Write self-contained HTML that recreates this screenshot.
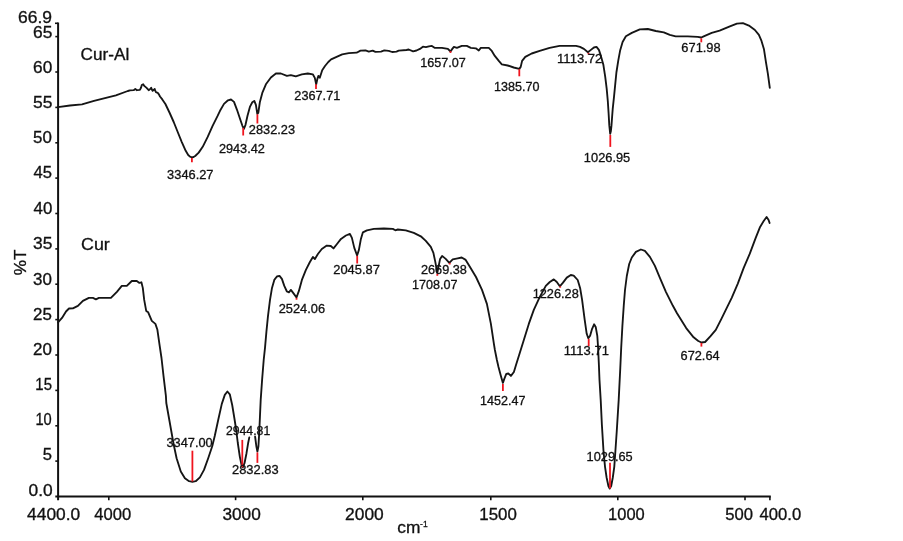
<!DOCTYPE html>
<html><head><meta charset="utf-8"><title>FTIR spectra</title>
<style>
html,body{margin:0;padding:0;background:#fff;overflow:hidden;}
svg{display:block;}
text{font-family:"Liberation Sans",Arial,sans-serif;fill:#111;stroke:#111;stroke-width:0.3px;}
.pk{font-size:12.3px;}
.ax{font-size:15.7px;}
</style></head>
<body>
<svg width="903" height="541" viewBox="0 0 903 541">
<rect width="903" height="541" fill="#fff"/>
<g stroke="#111" stroke-width="2" fill="none">
<path d="M58.1 22.5 V500.2"/>
<path d="M55.3 496.5 H770.8"/>
</g>
<g stroke="#111" stroke-width="1.6" fill="none">
<path d="M55 23.3 H58"/>
<path d="M55.3 36.6 H58"/>
<path d="M55.3 72.0 H58"/>
<path d="M55.3 107.4 H58"/>
<path d="M55.3 142.8 H58"/>
<path d="M55.3 178.1 H58"/>
<path d="M55.3 213.5 H58"/>
<path d="M55.3 248.9 H58"/>
<path d="M55.3 284.2 H58"/>
<path d="M55.3 319.6 H58"/>
<path d="M55.3 355.0 H58"/>
<path d="M55.3 390.4 H58"/>
<path d="M55.3 425.8 H58"/>
<path d="M55.3 461.1 H58"/>
<path d="M108.8 496.5 V500.2"/>
<path d="M235.6 496.5 V500.2"/>
<path d="M362.8 496.5 V500.2"/>
<path d="M490.8 496.5 V500.2"/>
<path d="M617.8 496.5 V500.2"/>
<path d="M745 496.5 V500.2"/>
<path d="M769.9 496.5 V500.2"/>
</g>
<g stroke="#151515" stroke-width="1.85" fill="none" stroke-linejoin="round" stroke-linecap="round">
<polyline points="58,107.1 70,105.5 82,104.3 94,100.9 105.9,97.9 115.9,95.3 127.8,91 130,90.3 133.7,90.2 135.3,88.9 136.9,90.2 139.9,89.9 141.1,87.5 141.8,85 143.2,84.2 144.3,85.9 146.6,87.9 148.7,90.2 150.3,88.9 151.2,87.7 151.7,89.3 152.6,90.9 153.8,89.8 154.7,88.9 155.2,90.7 155.9,92.1 157.7,92.8 158.9,94.4 160,96.5 162.3,99.4 165.4,104 169.7,113 173.7,122 177.7,132 181.7,141.8 185.7,150.8 188.2,155 190,156.7 191.9,157.3 193.6,157 195.2,156 198.7,152.6 202.7,146.8 207.7,136.9 212.6,125.9 217.6,115.9 220,110.8 224,103.9 228,100.3 231,99.5 234,101.9 237,109.8 240,118.8 242.4,125.8 243.9,128.8 245.5,124.8 247.5,115.8 249.9,106.9 252.3,102.3 254.3,100.9 255.9,104.9 257.3,113.8 258.3,112.8 259.9,101.9 262.3,92.9 265.9,84.3 270.9,77.5 275.9,73.5 280.9,73.5 286.9,75.9 290.8,75.1 295.8,76.3 301.8,74.3 307.8,73.5 312.8,74.3 314.8,77.9 316.2,84.3 317.4,78.9 318.4,75.9 319.8,77.7 322.2,70.2 325,66 328.3,62 331.1,59.4 336.6,56.8 342.2,54.4 348.8,53.2 356.6,52.7 360.5,50.6 365.5,50.4 368.8,51.6 372.7,50.6 375.4,51.8 381,51.6 384.3,50.4 388.7,50.8 392.1,52 396.5,51.6 398.7,50.6 406.5,50 408.7,49.5 413.1,51.3 416.5,50.5 419.9,48.9 422.9,46.7 425.9,47.1 428.9,46.3 431.9,45.9 434.9,47.9 441.9,47.9 447.9,48.9 450.5,51.5 452.3,48.9 453.9,46.9 456.9,47.9 461.8,45.9 466.8,45.9 470.8,47.9 475.8,48.3 478.8,50.5 480.8,47.9 488.8,47.9 491.8,50.9 494.8,55.9 498.8,60.9 501.8,64.3 507.7,65.5 513.7,67.5 519.3,68.9 520.7,66.9 522.1,60.9 525.3,56.9 531.7,53.5 539.7,50.9 549.6,47.9 559.6,45.9 576,45.9 580,46.9 583.9,48.9 587.9,52.3 590.9,49.9 593.9,47.5 596.5,46.9 598.9,49.9 600.9,55.9 603.3,64.4 605.2,76.6 606.7,88.8 607.8,101 608.6,113.2 609.3,125.4 610.2,133.8 610.9,131 611.5,125.4 612.1,117 612.7,109.1 614,96.9 615.2,84.7 616.4,72.5 618.3,60.3 620.2,50.2 622.6,42 625.9,36.3 631.8,32.9 639.8,29.4 647.8,29 655.8,31 663.8,32.4 669.8,34.9 675.7,36.3 687.7,36.3 697.7,36.9 701.3,37.5 703.7,36.3 711.7,32.9 719.6,30.6 729.9,26.4 736.9,23.6 742.9,23.2 748.9,25.6 754.9,30 758.9,34.9 761.5,40.9 763.9,48.9 765.9,61.9 767.9,73.9 769.8,87.8"/>
<polyline points="58,322.3 62,317.9 66,311.5 69,308.5 72.9,308.3 77.9,305.9 82.9,300.9 88.9,297.9 92.9,297.9 95.9,299.3 98.9,297.9 110.9,297.9 116.9,291.9 121.8,285.9 126.8,285.9 131.8,281 136.8,281 139.4,282.9 141.4,282.3 142.8,287.9 144.2,299.9 146.2,310.9 148.2,312.3 151.8,320.9 155.4,323.9 157.4,329.8 159.4,343.8 161.5,358 163.5,375.9 165.9,395.9 166.3,403 169.5,421 172.5,438 174,446 176.6,458.2 180.8,471.5 184.9,478.2 189.1,481.2 192.4,481.8 195.7,481.2 199.9,477.4 204,469.9 208.2,458.2 212.3,446 214.8,435.8 218.2,420 221.8,403.9 224.8,394.9 227.4,391.5 229.8,394.3 232.2,405 234.5,419 236.2,430 237.8,443 239.8,456.6 241.5,464.9 242.8,467.4 244.5,463.2 246.5,453.2 248.1,443.3 249.3,437.4"/>
<polyline points="255.1,436.6 256.4,446.6 257.4,451.6 258.4,446.6 259.1,434.9 259.8,420 260.7,399.9 262.1,379.9 263.7,360 265,347.8 266.4,331.8 268,315.8 270,299.9 272,287.9 274.3,279.9 276.9,276.5 279.5,275.9 281.9,278.9 284.3,285.9 286.9,291.5 288.9,292.3 290.9,289.9 293.9,293.9 296.5,297.5 298.9,290.9 301.9,279.9 305.9,269.9 309.9,262 312.9,257 314.9,259 317.9,254 321.8,249 326.8,245.6 330.8,246 333.5,248.4 337,244 341,238.9 345.9,235.5 349.9,233.9 351.9,237.9 354.3,247.9 357.1,255.5 358.9,249.9 360.9,238.9 362.9,232.3 366.9,230.3 373.9,228.9 383.9,228.5 392.8,228.9 395.4,230.3 397.8,229.5 405.8,230.3 413.8,232.9 420.8,236.3 425.8,240.9 430.8,246.9 433.4,252.9 435.3,261.9 437.3,272.8 438.7,265.9 440.1,258.9 442.1,255.9 445.7,258.9 449.3,262.9 452.7,259.3 457.7,258.3 461.7,257.5 465.7,259.9 470,267 476,277 482,289.9 486.9,303.9 490.9,323.9 493.9,343.8 494.9,350 496.9,360 498.5,367 500.9,375.9 502.9,382.9 504.3,378.9 506.3,373.9 508.3,373.5 510.9,375.9 513.9,372 516,365 518.9,355.8 523.9,339.8 528.8,323.9 533.8,309.9 539.8,296.9 545.8,285.9 549.8,282 553.8,279.4 556.8,282 559.8,286.3 562.8,282.9 566.8,277.6 570.8,275 573.7,275.6 577.7,280 580.1,287.9 582.1,299.9 584.7,319.9 586.7,333.8 588.3,338.2 590.1,335.8 592.1,328.8 594.1,324.3 595.7,326.9 597.3,335.8 598.1,347.8 598.9,365 599.5,380 600.7,399.9 601.9,425 603.5,451 605,466.6 606.6,477.5 608.4,486 609.7,488.6 611.2,486 612.8,477.5 614.3,466.6 615.4,451 616.7,432 618.7,399.9 620.3,367.8 621.2,347.8 622.4,325.9 623.8,305 625,290 626.8,276 629.2,264 631.8,257.5 635.9,251.9 640.9,249.5 644.9,250.9 649.9,256.9 654.9,265.9 659.9,277.8 665.9,291.8 672.9,305.8 677,313.3 686.2,328.1 693.6,337.3 698.3,341 701.4,342.5 705.1,342 710.3,336.4 715.8,329.9 721.4,318.8 726.9,307.7 731.7,297.8 737.7,283.8 743.7,267.9 749.7,253.9 755.7,237.9 760.1,226.9 763.7,221 766.6,217 768.6,220 769.6,223"/>
</g>
<g stroke="#f0141e" stroke-width="1.8" fill="none">
<path d="M191.9 157.9 V162.2"/>
<path d="M243.2 127.9 V135.5"/>
<path d="M257.4 114.3 V123.5"/>
<path d="M316 84.3 V88.9"/>
<path d="M450.5 51.1 V52.9"/>
<path d="M519.3 69.1 V76.3"/>
<path d="M588.5 52.9 V54.5"/>
<path d="M701.3 38.3 V42.3"/>
<path d="M610.3 134.9 V146.9"/>
<path d="M192.4 450.7 V481.5"/>
<path d="M242.3 439.9 V467.4"/>
<path d="M257.4 452.4 V462.9"/>
<path d="M296.5 297.9 V299.7"/>
<path d="M357.2 255.8 V263.5"/>
<path d="M437.3 273.8 V275.8"/>
<path d="M449.7 262.9 V264.5"/>
<path d="M560.2 286.3 V287.7"/>
<path d="M588.7 338.8 V346.2"/>
<path d="M502.9 383.9 V390.9"/>
<path d="M610 462.7 V488.6"/>
<path d="M701.4 342.9 V346.6"/>
</g>
<g class="pk">
<text x="167.13" y="179" textLength="46.33" lengthAdjust="spacingAndGlyphs">3346.27</text>
<text x="218.90" y="153" textLength="45.97" lengthAdjust="spacingAndGlyphs">2943.42</text>
<text x="248.89" y="134" textLength="46.18" lengthAdjust="spacingAndGlyphs">2832.23</text>
<text x="294.34" y="100" textLength="45.95" lengthAdjust="spacingAndGlyphs">2367.71</text>
<text x="420.20" y="67" textLength="45.60" lengthAdjust="spacingAndGlyphs">1657.07</text>
<text x="493.99" y="91" textLength="45.42" lengthAdjust="spacingAndGlyphs">1385.70</text>
<text x="557.07" y="63" textLength="45.32" lengthAdjust="spacingAndGlyphs">1113.72</text>
<text x="681.36" y="52" textLength="39.32" lengthAdjust="spacingAndGlyphs">671.98</text>
<text x="583.89" y="162" textLength="46.34" lengthAdjust="spacingAndGlyphs">1026.95</text>
<text x="166.46" y="447" textLength="46.20" lengthAdjust="spacingAndGlyphs">3347.00</text>
<text x="225.93" y="435" textLength="44.27" lengthAdjust="spacingAndGlyphs">2944.81</text>
<text x="232.04" y="474" textLength="46.60" lengthAdjust="spacingAndGlyphs">2832.83</text>
<text x="278.72" y="313" textLength="46.28" lengthAdjust="spacingAndGlyphs">2524.06</text>
<text x="333.30" y="274" textLength="46.54" lengthAdjust="spacingAndGlyphs">2045.87</text>
<text x="420.97" y="274" textLength="45.97" lengthAdjust="spacingAndGlyphs">2669.38</text>
<text x="412.12" y="289" textLength="45.43" lengthAdjust="spacingAndGlyphs">1708.07</text>
<text x="532.68" y="298" textLength="46.06" lengthAdjust="spacingAndGlyphs">1226.28</text>
<text x="563.86" y="355" textLength="45.01" lengthAdjust="spacingAndGlyphs">1113.71</text>
<text x="480.08" y="405" textLength="45.28" lengthAdjust="spacingAndGlyphs">1452.47</text>
<text x="586.64" y="461" textLength="46.09" lengthAdjust="spacingAndGlyphs">1029.65</text>
<text x="680.59" y="360" textLength="38.99" lengthAdjust="spacingAndGlyphs">672.64</text>
</g>
<g class="ax">
<text x="18.02" y="23" textLength="34.00" lengthAdjust="spacingAndGlyphs">66.9</text>
<text x="28.61" y="496" textLength="24.16" lengthAdjust="spacingAndGlyphs">0.0</text>
<text x="27.14" y="520" textLength="53.09" lengthAdjust="spacingAndGlyphs">4400.0</text>
<text x="94.37" y="520" textLength="37.00" lengthAdjust="spacingAndGlyphs">4000</text>
<text x="222.45" y="520" textLength="38.37" lengthAdjust="spacingAndGlyphs">3000</text>
<text x="345.10" y="520" textLength="38.68" lengthAdjust="spacingAndGlyphs">2000</text>
<text x="479.29" y="520" textLength="37.57" lengthAdjust="spacingAndGlyphs">1500</text>
<text x="608.12" y="520" textLength="36.64" lengthAdjust="spacingAndGlyphs">1000</text>
<text x="725.31" y="520" textLength="27.79" lengthAdjust="spacingAndGlyphs">500</text>
<text x="759.56" y="520" textLength="41.68" lengthAdjust="spacingAndGlyphs">400.0</text>
<text x="80.60" y="60" textLength="48.66" lengthAdjust="spacingAndGlyphs">Cur-Al</text>
<text x="81.07" y="250" textLength="28.74" lengthAdjust="spacingAndGlyphs">Cur</text>
<text x="397.29" y="533" textLength="23.11" lengthAdjust="spacingAndGlyphs">cm</text>
<text x="33.04" y="38" textLength="19.33" lengthAdjust="spacingAndGlyphs">65</text>
<text x="33.05" y="73" textLength="19.18" lengthAdjust="spacingAndGlyphs">60</text>
<text x="33.01" y="108" textLength="19.43" lengthAdjust="spacingAndGlyphs">55</text>
<text x="33.04" y="143" textLength="18.81" lengthAdjust="spacingAndGlyphs">50</text>
<text x="33.53" y="178" textLength="18.47" lengthAdjust="spacingAndGlyphs">45</text>
<text x="33.54" y="214" textLength="18.76" lengthAdjust="spacingAndGlyphs">40</text>
<text x="33.09" y="249" textLength="19.34" lengthAdjust="spacingAndGlyphs">35</text>
<text x="33.10" y="285" textLength="18.86" lengthAdjust="spacingAndGlyphs">30</text>
<text x="33.09" y="320" textLength="18.82" lengthAdjust="spacingAndGlyphs">25</text>
<text x="33.09" y="355" textLength="18.88" lengthAdjust="spacingAndGlyphs">20</text>
<text x="35.37" y="390" textLength="16.66" lengthAdjust="spacingAndGlyphs">15</text>
<text x="35.41" y="425" textLength="16.33" lengthAdjust="spacingAndGlyphs">10</text>
<text x="42.79" y="460" textLength="9.25" lengthAdjust="spacingAndGlyphs">5</text>
</g>
<g class="ax">
<text transform="translate(25.8 275.3) rotate(-90)" style="font-size:16.8px" textLength="25.8" lengthAdjust="spacingAndGlyphs">%T</text>
<text x="420.1" y="527.4" style="font-size:9.8px" textLength="7.6" lengthAdjust="spacingAndGlyphs">-1</text>
</g>
</svg>
</body></html>
